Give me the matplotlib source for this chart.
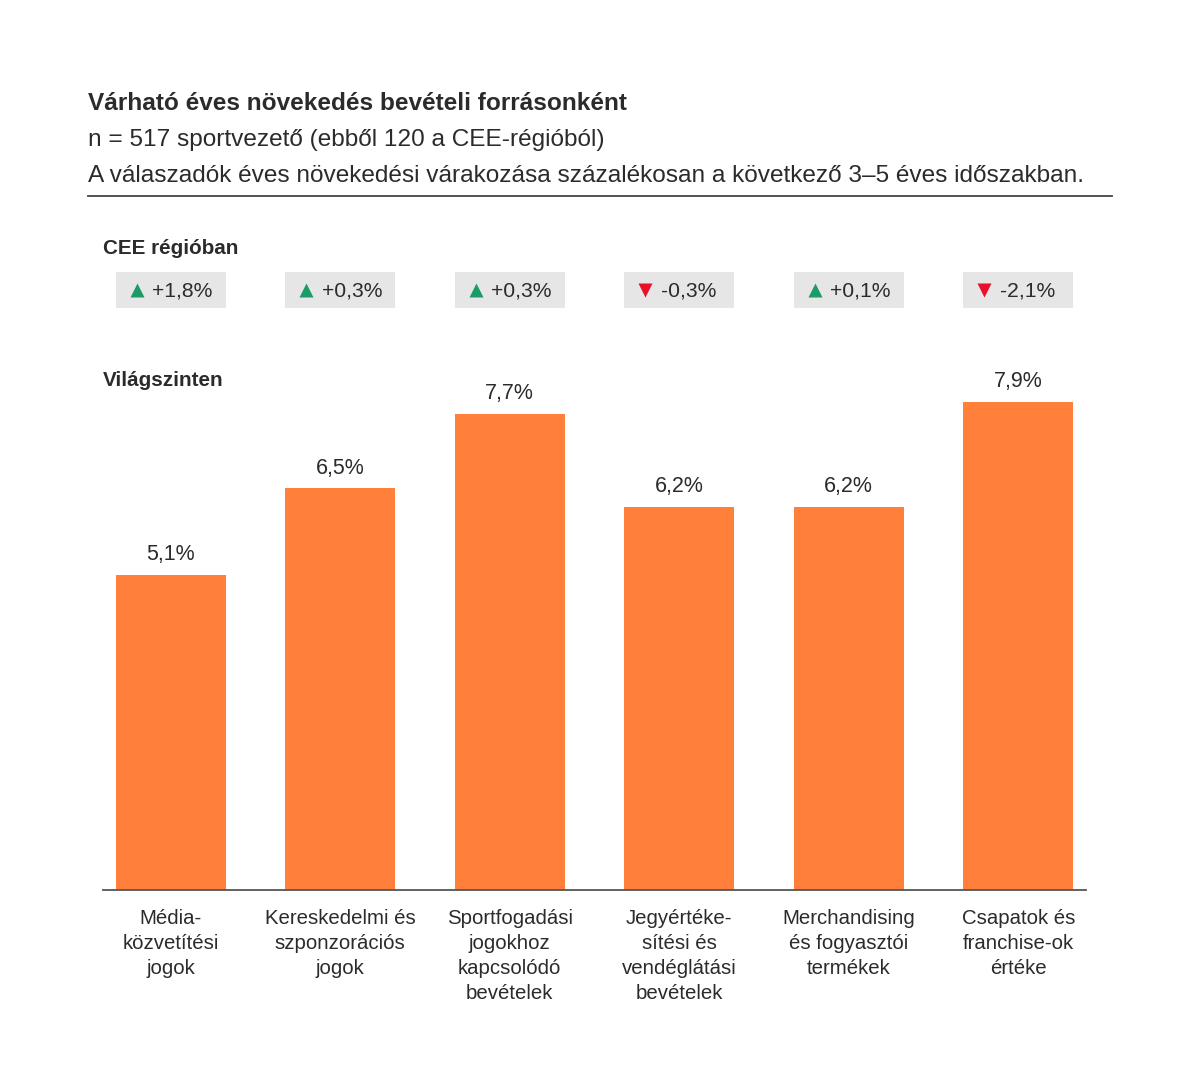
import matplotlib.pyplot as plt
import numpy as np

plt.rcParams['font.family'] = ['Liberation Sans', 'DejaVu Sans']

# adatok
categories = ['Média-\nközvetítési\njogok',
              'Kereskedelmi és\nszponzorációs\njogok',
              'Sportfogadási\njogokhoz\nkapcsolódó\nbevételek',
              'Jegyértéke-\nsítési és\nvendéglátási\nbevételek',
              'Merchandising\nés fogyasztói\ntermékek',
              'Csapatok és\nfranchise-ok\nértéke']
global_growth = [5.1, 6.5, 7.7, 6.2, 6.2, 7.9]
cee_diff = [1.8, 0.3, 0.3, -0.3, 0.1, -2.1]

orange = '#FF7F3B'
dark = '#2B2B2B'
green = '#1A9B68'
red = '#E8102C'

W, H = 1200, 1086
fig = plt.figure(figsize=(W / 100, H / 100), dpi=100)

def fx(px):
    return px / W

def fy(py):
    return 1 - py / H

x = np.arange(len(categories))
xlim = (-0.4, len(categories) - 0.6)

# fő diagram
base_px = 890
ymax = 8.5
top_px = base_px - ymax * 61.8
ax = fig.add_axes([fx(103), fy(base_px), fx(1086) - fx(103), fy(top_px) - fy(base_px)])
ax.bar(x, global_growth, width=0.65, color=orange)
ax.set_xlim(*xlim)
ax.set_ylim(0, ymax)
for xi, v in zip(x, global_growth):
    ax.annotate(f'{v:.1f}%'.replace('.', ','), (xi, v), xytext=(0, 7),
                textcoords='offset points', ha='center', va='bottom',
                fontsize=15.5, color=dark)
for s in ['top', 'right', 'left']:
    ax.spines[s].set_visible(False)
ax.spines['bottom'].set_color('#555555')
ax.spines['bottom'].set_linewidth(1.3)
ax.set_yticks([])
ax.set_xticks(x)
ax.set_xticklabels(categories, fontsize=14.7, color=dark, linespacing=1.4, va='top')
ax.tick_params(axis='x', length=0, pad=14)

# CEE sor
ax2 = fig.add_axes([fx(103), fy(308), fx(1086) - fx(103), fy(272) - fy(308)])
ax2.bar(x, [1] * len(x), width=0.65, color='#E6E6E6')
ax2.set_xlim(*xlim)
ax2.set_ylim(0, 1)
ax2.axis('off')
for xi, d in zip(x, cee_diff):
    up = d > 0
    ax2.plot(xi - 0.2, 0.5, marker='^' if up else 'v', color=green if up else red,
             ms=10, mec='none')
    label = (f'+{d:.1f}%' if up else f'{d:.1f}%').replace('.', ',')
    ax2.text(xi - 0.11, 0.47, label, ha='left', va='center', fontsize=15.2,
             color=dark)

# fejléc
fig.text(fx(88), fy(103), 'Várható éves növekedés bevételi forrásonként',
         fontsize=17.6, fontweight='bold', color=dark, va='center')
fig.text(fx(88), fy(140), 'n = 517 sportvezető (ebből 120 a CEE-régióból)',
         fontsize=17.6, color=dark, va='center')
fig.text(fx(88), fy(176), 'A válaszadók éves növekedési várakozása százalékosan a következő 3–5 éves időszakban.',
         fontsize=17.6, color=dark, va='center')
fig.add_artist(plt.Line2D([fx(88), fx(1112)], [fy(196), fy(196)], color='#444444', lw=1.3))
fig.text(fx(103), fy(249), 'CEE régióban', fontsize=14.9, fontweight='bold', color=dark, va='center')
fig.text(fx(103), fy(381), 'Világszinten', fontsize=14.9, fontweight='bold', color=dark, va='center')

fig.savefig('out.png', dpi=100, facecolor='white')
